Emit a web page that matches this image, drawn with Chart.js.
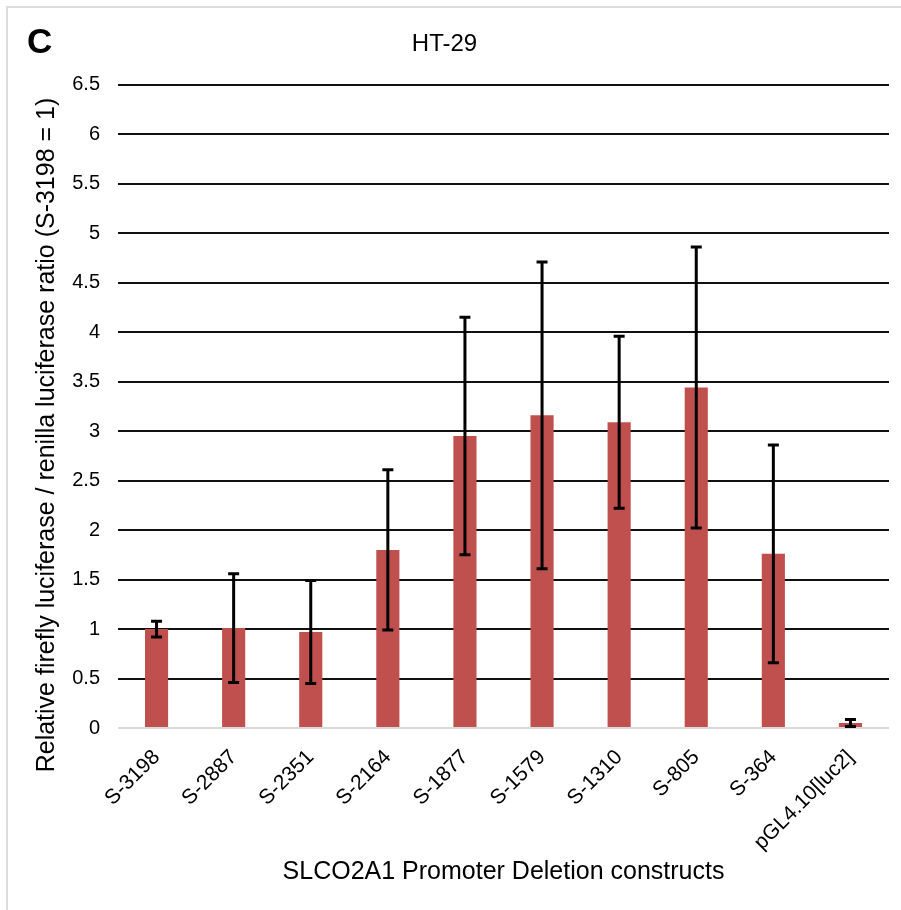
<!DOCTYPE html>
<html>
<head>
<meta charset="utf-8">
<title>HT-29</title>
<script src="https://cdn.jsdelivr.net/npm/chart.js@4/dist/chart.umd.min.js"></script>
<style>
	body {
		margin: 0;
		background: #fff;
	}

	#wrap {
		position: relative;
		width: 901px;
		height: 910px;
	}

	#frame {
		position: absolute;
		left: 6px;
		top: 6px;
		right: 0;
		bottom: 0;
		border-top: 2px solid #dcdcdc;
		border-left: 2px solid #dcdcdc;
	}

	#panel {
		position: absolute;
		left: 27px;
		top: 21px;
		font: bold 35px "Liberation Sans", Arial, sans-serif;
		color: #000;
	}

	canvas {
		position: absolute;
		left: 0;
		top: 0;
	}
</style>
</head>
<body>
<div id="wrap">
	<div id="frame"></div>
	<canvas id="luc-chart" width="901" height="910"></canvas>
	<div id="panel">C</div>
</div>

<script>
	const constructs = ['S-3198', 'S-2887', 'S-2351', 'S-2164', 'S-1877', 'S-1579', 'S-1310', 'S-805', 'S-364', 'pGL4.10[luc2]'];
	const ratioMean = [1.00, 1.01, 0.97, 1.80, 2.95, 3.16, 3.09, 3.44, 1.76, 0.05];
	const ratioSd = [0.08, 0.55, 0.52, 0.81, 1.20, 1.55, 0.87, 1.42, 1.10, 0.035];
	const yMax = 6.5;
	const yStep = 0.5;

	const chartTitle = 'HT-29';
	const xTitle = 'SLCO2A1 Promoter Deletion constructs';
	const yTitle = 'Relative firefly luciferase / renilla luciferase ratio (S-3198 = 1)';

	const fontFamily = '"Liberation Sans", Arial, sans-serif';

	// mean +/- sd whiskers on top of every bar
	const errorBars = {
		id: 'errorBars',
		afterDatasetsDraw: function (chart) {
			const ctx = chart.ctx;
			const y = chart.scales.y;
			const meta = chart.getDatasetMeta(0);
			const cap = 5.5;

			ctx.save();
			ctx.strokeStyle = '#000';
			ctx.lineWidth = 3;
			ctx.lineCap = 'butt';

			meta.data.forEach(function (bar, i) {
				const top = y.getPixelForValue(ratioMean[i] + ratioSd[i]);
				const bottom = y.getPixelForValue(ratioMean[i] - ratioSd[i]);

				ctx.beginPath();
				ctx.moveTo(bar.x, top);
				ctx.lineTo(bar.x, bottom);
				ctx.moveTo(bar.x - cap, top);
				ctx.lineTo(bar.x + cap, top);
				ctx.moveTo(bar.x - cap, bottom);
				ctx.lineTo(bar.x + cap, bottom);
				ctx.stroke();
			});

			ctx.restore();
		}
	};

	// rotated y title, sits a bit lower than the plot's middle
	const sideTitle = {
		id: 'sideTitle',
		afterDraw: function (chart) {
			const ctx = chart.ctx;

			ctx.save();
			ctx.translate(47, 435);
			ctx.rotate(-Math.PI / 2);
			ctx.font = '25px ' + fontFamily;
			ctx.fillStyle = '#000';
			ctx.textAlign = 'center';
			ctx.textBaseline = 'middle';
			ctx.fillText(yTitle, 0, 0);
			ctx.restore();
		}
	};

	const config = {
		type: 'bar',

		data: {
			labels: constructs,
			datasets: [{
				data: ratioMean,
				backgroundColor: '#C0504D',
				borderWidth: 0,
				barPercentage: 0.3,
				categoryPercentage: 1,
			}]
		},

		options: {
			responsive: false,
			animation: false,
			devicePixelRatio: 1,
			layout: {
				padding: {left: 0, right: 12, top: 0, bottom: 0},
			},
			plugins: {
				legend: {display: false},
				tooltip: {enabled: false},
				title: {
					display: true,
					text: chartTitle,
					color: '#000',
					font: {family: fontFamily, size: 24, weight: 'normal'},
					padding: {top: 30, bottom: 26},
				},
			},
			scales: {
				x: {
					grid: {display: false},
					border: {display: false},
					ticks: {
						color: '#000',
						font: {family: fontFamily, size: 21},
						minRotation: 45,
						maxRotation: 45,
						padding: 9,
						autoSkip: false,
					},
					title: {
						display: true,
						text: xTitle,
						color: '#000',
						font: {family: fontFamily, size: 25},
						padding: {top: 0, bottom: 23},
					},
					afterFit: function (scale) {
						scale.height = 182;
					},
				},
				y: {
					min: 0,
					max: yMax,
					border: {display: false},
					grid: {
						drawTicks: false,
						lineWidth: 2,
						color: function (c) {
							return c.tick && c.tick.value === 0 ? '#d9d9d9' : '#111';
						},
					},
					ticks: {
						stepSize: yStep,
						padding: 18,
						color: '#000',
						font: {family: fontFamily, size: 20},
						callback: function (value) {
							return String(Number(value));
						},
					},
					afterFit: function (scale) {
						scale.width = 118;
					},
				},
			},
		},

		plugins: [errorBars, sideTitle],
	};

	new Chart(document.getElementById('luc-chart'), config);
</script>
</body>
</html>
